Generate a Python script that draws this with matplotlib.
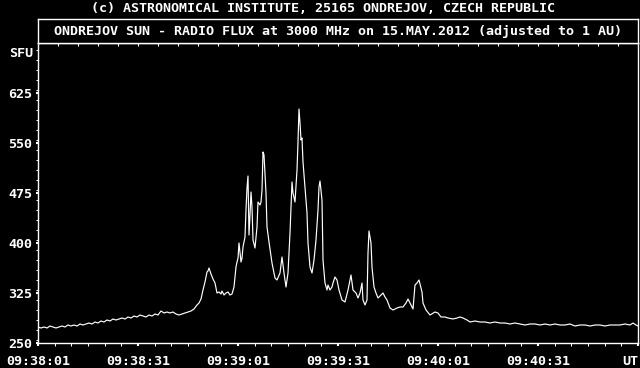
import matplotlib
matplotlib.use('Agg')
import matplotlib.pyplot as plt
from matplotlib.ticker import MultipleLocator, FixedLocator
from matplotlib.transforms import blended_transform_factory

# seconds after 09:38:01 UT
t = [0, 0.9, 1.8, 2.7, 3.6, 4.5, 5.4, 6.3, 7.2, 8.1, 9.0, 9.9, 10.8, 11.7, 12.6,
     13.5, 14.4, 15.3, 16.2, 17.1, 18.0, 18.9, 19.8, 20.7, 21.6, 22.5, 23.4, 24.3,
     25.2, 26.1, 27.0, 27.9, 28.8, 29.7, 30.6, 31.5, 32.4, 33.3, 34.2, 35.1, 36.0,
     36.9, 37.8, 38.7, 39.6, 40.5, 41.4, 42.3, 43.2, 44.1, 45.0, 45.9, 46.8, 47.7,
     48.3, 48.9, 49.5, 50.1, 50.7, 51.0, 51.3, 51.9, 52.5, 53.1, 53.7, 54.3, 54.9,
     55.2, 55.8, 56.4, 57.0, 57.6, 58.2, 58.8, 59.4, 59.7, 60.0, 60.3, 60.6, 60.9,
     61.2, 61.5, 62.1, 62.4, 62.7, 63.0, 63.3, 63.6, 63.9, 64.2, 64.5, 65.1, 65.7,
     66.0, 66.6, 66.9, 67.2, 67.5, 67.8, 68.4, 68.7, 69.3, 70.2, 71.1, 71.7, 72.6,
     73.2, 73.8, 74.4, 75.0, 75.6, 76.2, 76.5, 77.1, 77.7, 78.0, 78.3, 78.6, 78.9,
     79.2, 79.5, 80.1, 80.7, 81.0, 81.6, 82.2, 82.8, 83.4, 84.0, 84.3, 84.6, 85.2,
     85.5, 86.1, 86.7, 87.0, 87.6, 88.2, 88.5, 89.1, 89.7, 90.3, 91.2, 92.1, 93.0,
     93.9, 94.5, 95.4, 96.0, 96.6, 97.2, 97.5, 98.1, 98.7, 99.0, 99.3, 99.9, 100.2,
     100.8, 101.4, 102.0, 102.9, 103.5, 104.1, 104.7, 105.6, 106.5, 107.7, 108.6,
     109.5, 110.4, 111.0, 111.9, 112.5, 113.1, 113.7, 114.3, 115.2, 115.5, 116.4,
     117.6, 119.1, 120.0, 120.9, 122.1, 123.0, 124.5, 125.7, 126.6, 127.5, 128.7,
     129.6, 131.1, 132.6, 134.1, 135.6, 137.1, 138.6, 140.1, 141.6, 143.1, 144.6,
     146.1, 147.6, 149.1, 150.6, 152.1, 153.6, 155.1, 156.6, 158.1, 159.6, 161.1,
     162.6, 164.1, 165.6, 167.1, 168.6, 170.1, 171.6, 173.1, 174.6, 176.1, 177.6,
     178.5, 179.4, 180.0]

flux = [274, 272.5, 274, 272.5, 275.5, 274, 272.5, 274, 275.5, 274, 277, 275.5, 277,
        275.5, 278.5, 277, 278.5, 280, 278.5, 281.5, 280, 283, 281.5, 284.5, 283, 286,
        284.5, 286, 287.5, 286, 289, 287.5, 290.5, 289, 292, 290.5, 289, 292, 290.5,
        293.5, 292, 298, 295, 296.5, 295, 296.5, 293.5, 292, 293.5, 295, 296.5, 298,
        301, 307, 310, 316, 329.5, 341.5, 356.5, 358, 362.5, 353.5, 346, 340, 325,
        326.5, 323.5, 328, 322, 325, 326.5, 322, 323.5, 334, 364, 371.5, 377, 400,
        385, 371.5, 377, 394, 409, 449.5, 482.5, 500.5, 412, 442, 476.5, 454, 404.5,
        392.5, 424, 461.5, 457, 461.5, 479.5, 536.5, 532, 475, 424, 401.5, 370, 347.5,
        344.5, 355, 379, 355, 334, 355, 415, 491.5, 475, 461.5, 509.5, 551.5, 601,
        580, 554.5, 557.5, 521.5, 482.5, 445, 400, 364, 355, 374.5, 404.5, 449.5, 484,
        493, 464.5, 374.5, 340, 329.5, 337, 329.5, 334, 340, 349, 344.5, 329.5, 314.5,
        311.5, 329.5, 352, 329.5, 325, 317.5, 325, 340, 314.5, 307, 314.5, 385, 418,
        400, 364, 334, 325, 317.5, 322, 325, 319, 314.5, 302.5, 299.5, 302.5, 304,
        304, 310, 316, 307, 301, 337, 340, 344.5, 326.5, 310, 299.5, 292, 296.5, 295,
        289, 289, 287.5, 286, 287.5, 289, 287.5, 284.5, 281.5, 283, 281.5, 281.5, 280,
        281.5, 280, 280, 278.5, 280, 278.5, 277, 278.5, 278.5, 277, 278.5, 277, 278.5,
        277, 277, 278.5, 275.5, 277, 277, 275.5, 277, 277, 275.5, 277, 277, 277,
        278.5, 277, 280, 277, 275.5]

time_ticks = [0, 30, 60, 90, 120, 150, 180]
time_labels = ['09:38:01', '09:38:31', '09:39:01', '09:39:31', '09:40:01', '09:40:31', 'UT']
sfu_ticks = [250, 325, 400, 475, 550, 625]

caption = '(c) ASTRONOMICAL INSTITUTE, 25165 ONDREJOV, CZECH REPUBLIC'
title = 'ONDREJOV SUN - RADIO FLUX at 3000 MHz on 15.MAY.2012 (adjusted to 1 AU)'

plt.rcParams['font.family'] = 'DejaVu Sans Mono'
plt.rcParams['font.weight'] = 'bold'
plt.rcParams['font.size'] = 9.6

fig = plt.figure(figsize=(6.4, 3.68), dpi=100, facecolor='black')

ax = fig.add_axes([38/640, 25/368, 600/640, 300/368], facecolor='black')
ax.plot(t, flux, color='white', lw=0.85)
ax.set_xlim(0, 180)
ax.set_ylim(250, 700)
for s in ax.spines.values():
    s.set_color('white')
    s.set_linewidth(1.0)

ax.xaxis.set_major_locator(FixedLocator(time_ticks))
ax.set_xticklabels(time_labels)
ax.xaxis.set_minor_locator(MultipleLocator(5))
ax.yaxis.set_major_locator(FixedLocator(sfu_ticks))
ax.yaxis.set_minor_locator(MultipleLocator(15))
ax.tick_params(which='both', colors='white', direction='out')
ax.tick_params(axis='x', which='major', length=2.5, width=1.5, pad=5.8)
ax.tick_params(axis='x', which='minor', length=2.5, width=0.75)
ax.tick_params(axis='y', which='major', length=1.8, width=1.5, pad=2.5)
ax.tick_params(axis='y', which='minor', length=1.5, width=0.75)
labs = ax.get_xticklabels()
labs[-1].set_ha('right')
labs[-1].set_x(179.5)

trans = blended_transform_factory(ax.transAxes, ax.transData)
ax.text(-0.0083, 685, 'SFU', transform=trans, ha='right', va='center', color='white')

# box holding the title
tb = fig.add_axes([38/640, 325/368, 600/640, 24/368], facecolor='black')
tb.set_xlim(0, 180)
for s in tb.spines.values():
    s.set_color('white')
    s.set_linewidth(1.0)
tb.xaxis.set_major_locator(MultipleLocator(6))
tb.set_yticks([])
tb.tick_params(axis='x', colors='white', direction='out', length=2.2, width=0.75,
               labelbottom=False)
tb.text(0.5, 0.5, title, transform=tb.transAxes, ha='center', va='center', color='white')

fig.text(323/640, 1 - 8/368, caption, ha='center', va='center', color='white')

fig.savefig('out.png', dpi=100, facecolor='black')
